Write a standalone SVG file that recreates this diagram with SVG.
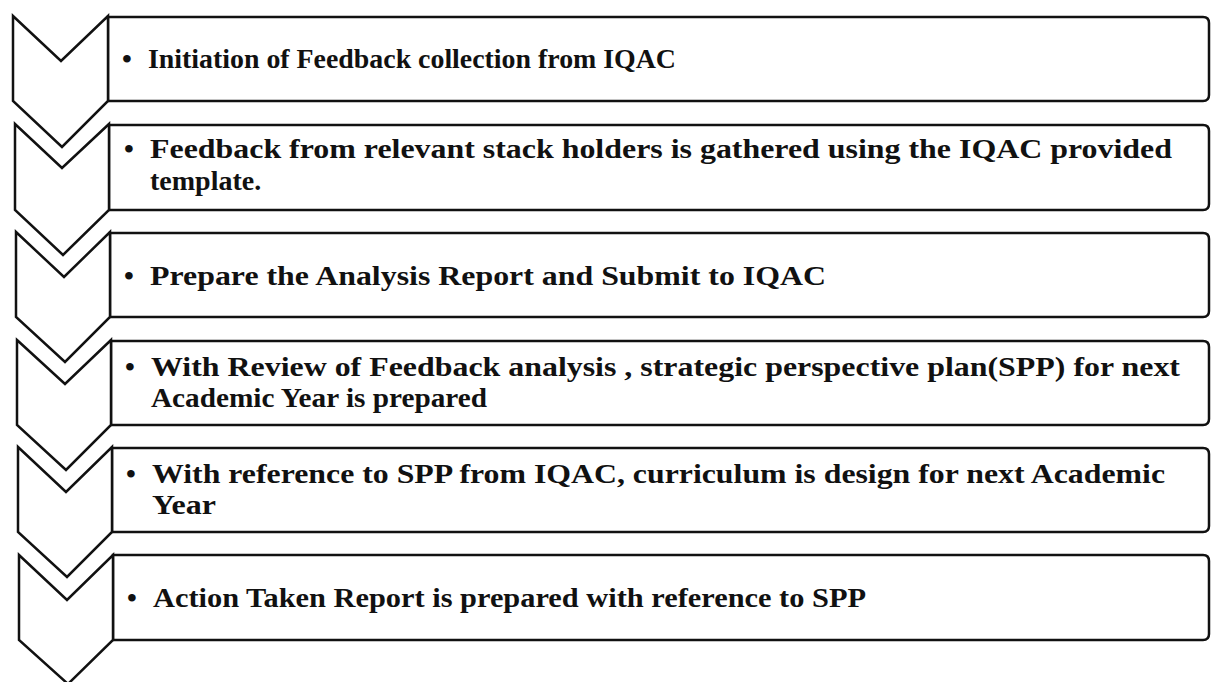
<svg xmlns="http://www.w3.org/2000/svg" width="1212" height="682" viewBox="0 0 1212 682">
<style>
.shape{fill:#fff;stroke:#111;stroke-width:2.5;stroke-linejoin:miter}
.t{font-family:"Liberation Serif","Times New Roman",serif;font-weight:bold;font-size:28px;fill:#111}
</style>
<rect width="1212" height="682" fill="#fff"/>
<g id="step1">
<path class="shape" d="M108,17 H1203 Q1209,17 1209,23 V95 Q1209,101 1203,101 H108 Z"/>
<path class="shape" d="M13,16 L61,61 L108,16 V101 L62,147 L13,101 Z"/>
<text class="t" x="122" y="68">•</text>
<text class="t" x="148" y="68" textLength="528" lengthAdjust="spacingAndGlyphs">Initiation of Feedback collection from IQAC</text>
</g>
<g id="step2">
<path class="shape" d="M109,125 H1203 Q1209,125 1209,131 V204 Q1209,210 1203,210 H109 Z"/>
<path class="shape" d="M15,124 L62,168 L109,124 V210 L63,255 L15,210 Z"/>
<text class="t" x="124" y="158">•</text>
<text class="t" x="150" y="158" textLength="1022" lengthAdjust="spacingAndGlyphs">Feedback from relevant stack holders is gathered using the IQAC provided</text>
<text class="t" x="150" y="190">template.</text>
</g>
<g id="step3">
<path class="shape" d="M110,233 H1203 Q1209,233 1209,239 V311 Q1209,317 1203,317 H110 Z"/>
<path class="shape" d="M16,232 L64,277 L110,232 V317 L65,362 L16,317 Z"/>
<text class="t" x="124" y="285">•</text>
<text class="t" x="150" y="285" textLength="676" lengthAdjust="spacingAndGlyphs">Prepare the Analysis Report and Submit to IQAC</text>
</g>
<g id="step4">
<path class="shape" d="M111,341 H1203 Q1209,341 1209,347 V419 Q1209,425 1203,425 H111 Z"/>
<path class="shape" d="M17,340 L65,384 L111,340 V425 L66,470 L17,425 Z"/>
<text class="t" x="125" y="376">•</text>
<text class="t" x="151" y="376" textLength="1029" lengthAdjust="spacingAndGlyphs">With Review of Feedback analysis , strategic perspective plan(SPP) for next</text>
<text class="t" x="151" y="407" textLength="336" lengthAdjust="spacingAndGlyphs">Academic Year is prepared</text>
</g>
<g id="step5">
<path class="shape" d="M112,448 H1203 Q1209,448 1209,454 V526 Q1209,532 1203,532 H112 Z"/>
<path class="shape" d="M18,447 L66,492 L112,447 V532 L67,577 L18,532 Z"/>
<text class="t" x="126" y="483">•</text>
<text class="t" x="152" y="483" textLength="1013" lengthAdjust="spacingAndGlyphs">With reference to SPP from IQAC, curriculum is design for next Academic</text>
<text class="t" x="152" y="514" textLength="64" lengthAdjust="spacingAndGlyphs">Year</text>
</g>
<g id="step6">
<path class="shape" d="M113,555 H1203 Q1209,555 1209,561 V634 Q1209,640 1203,640 H113 Z"/>
<path class="shape" d="M19,555 L67,600 L113,555 V640 L68,684 L19,640 Z"/>
<text class="t" x="127" y="607">•</text>
<text class="t" x="153" y="607" textLength="713" lengthAdjust="spacingAndGlyphs">Action Taken Report is prepared with reference to SPP</text>
</g>
<g id="connectors"></g>
</svg>
